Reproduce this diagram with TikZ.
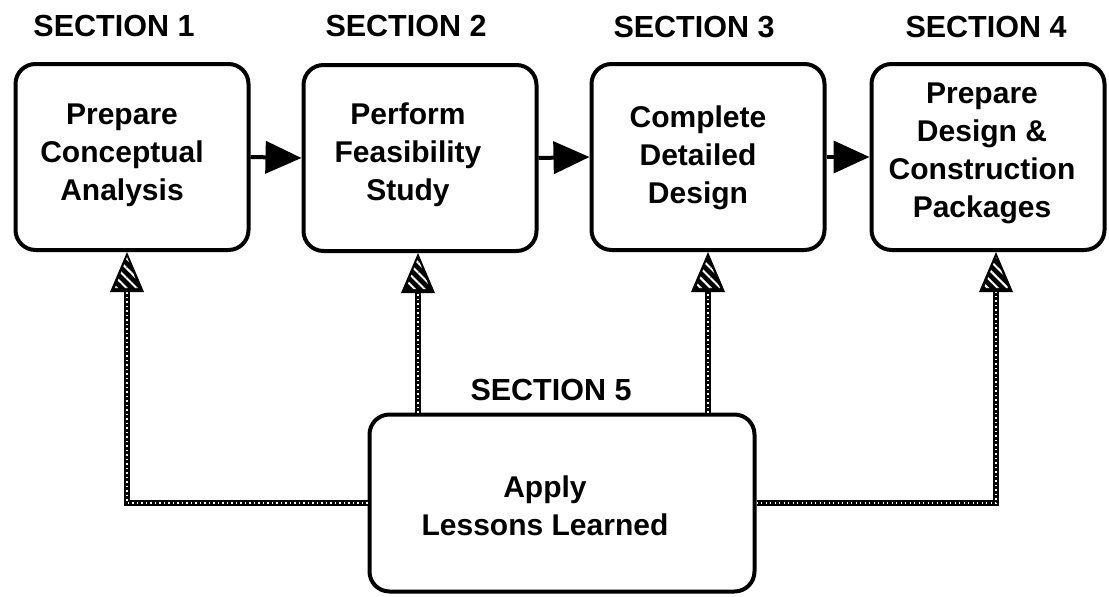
\documentclass[tikz,border=0pt]{standalone}
\usepackage{fontspec}
\setmainfont{Liberation Sans}
\usetikzlibrary{arrows.meta,patterns.meta,calc}
\begin{document}
\begin{tikzpicture}[x=1pt,y=-1pt,
  box/.style={draw=black, line width=4pt, rounded corners=20pt, minimum width=233pt, minimum height=186pt, inner sep=0pt},
  bigbox/.style={box, minimum width=385pt, minimum height=177pt},
  txt/.style={font=\bfseries\fontsize{30}{38}\selectfont, align=center, inner sep=0pt},
  sec/.style={font=\bfseries\fontsize{30.5}{36}\selectfont, anchor=base, inner sep=0pt},
  harrow/.style={line width=4pt, -{Triangle[length=36pt,width=32pt]}},
  rope/.style={line width=5.5pt, line join=miter, shorten >=38pt,
    postaction={draw=white, line width=1.2pt, dash pattern=on 1.2pt off 3.3pt, shorten >=38pt}},
  hhead/.pic={
    \fill[black] (0,0) -- (-17,40) -- (17,40) -- cycle;
    \fill[pattern={Lines[angle=-45,distance=7pt,line width=2pt]}, pattern color=white] (0,5) -- (-12,36) -- (12,36) -- cycle;
  }
]
\useasboundingbox (0,0) rectangle (1109,597);

% section labels
\node[sec] (s1) at (114,36) {SECTION 1};
\node[sec] (s2) at (406,36) {SECTION 2};
\node[sec] (s3) at (694,37) {SECTION 3};
\node[sec] (s4) at (986,37) {SECTION 4};
\node[sec] (s5) at (551,400) {SECTION 5};

% boxes
\node[box] (b1) at (132,157) {};
\node[box] (b2) at (420,158) {};
\node[box] (b3) at (708,157) {};
\node[box] (b4) at (988,157) {};
\node[bigbox] (b5) at (562,503) {};

% texts
\node[txt] (t1) at (122,155) {Prepare\\Conceptual\\Analysis};
\node[txt] (t2) at (408,155) {Perform\\Feasibility\\Study};
\node[txt] (t3) at (698,158) {Complete\\Detailed\\Design};
\node[txt] (t4) at (982,153) {Prepare\\Design \&\\Construction\\Packages};
\node[txt] (t5) at (545,506) {Apply\\Lessons Learned};

% horizontal arrows
\draw[harrow] (b1.east) -- (b2.west);
\draw[harrow] (b2.east) -- (b3.west);
\draw[harrow] (b3.east) -- (b4.west);

% feedback connectors
\coordinate (k1) at (127,0);
\coordinate (k2) at (418,0);
\coordinate (k3) at (708,0);
\coordinate (k4) at (996,0);
\draw[rope] (b5.west) -| (b1.south -| k1);
\draw[rope] (b5.north -| k2) -- (b2.south -| k2);
\draw[rope] (b5.north -| k3) -- (b3.south -| k3);
\draw[rope] (b5.east) -| (b4.south -| k4);
\pic at (b1.south -| k1) {hhead};
\pic at (b2.south -| k2) {hhead};
\pic at (b3.south -| k3) {hhead};
\pic at (b4.south -| k4) {hhead};
\end{tikzpicture}
\end{document}
